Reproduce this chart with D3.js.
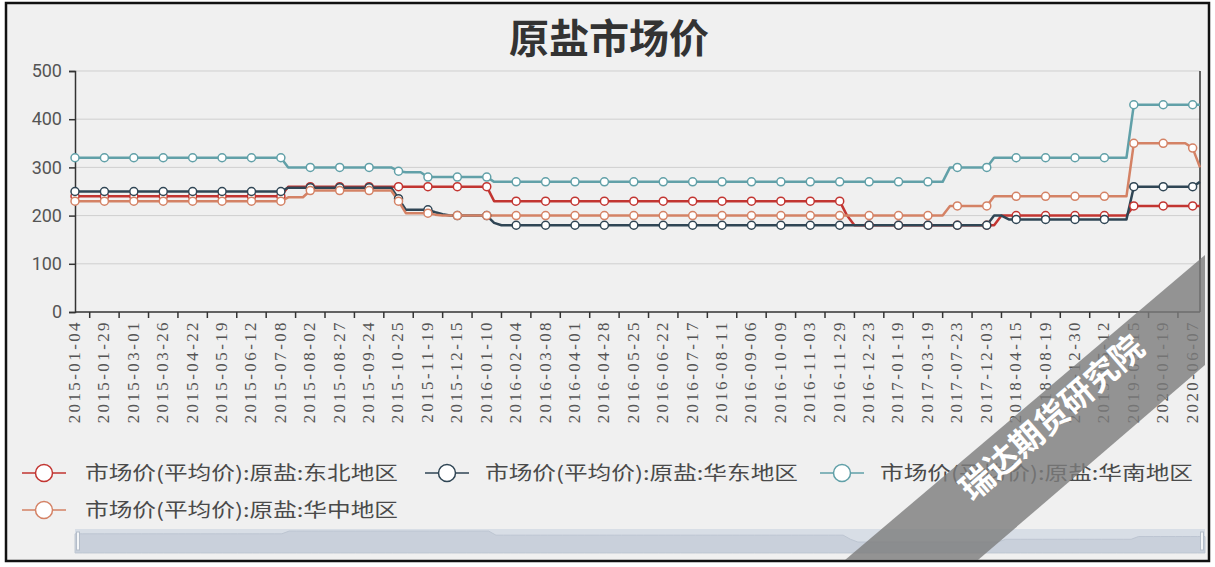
<!DOCTYPE html>
<html>
<head>
<meta charset="utf-8">
<script src="https://cdn.jsdelivr.net/npm/d3@7/dist/d3.min.js"></script>
<style>
  body { margin: 0; background: #fff; }
  text { font-family: "Noto Sans CJK SC", "Noto Sans", sans-serif; }
</style>
</head>
<body>
<div id="chart"></div>
<script>
////
// DATA
////
// labelled categories (every 4th category carries a label)
const tickLabels = [
  "2015-01-04", "2015-01-29", "2015-03-01", "2015-03-26", "2015-04-22", "2015-05-19", "2015-06-12", "2015-07-08",
  "2015-08-02", "2015-08-27", "2015-09-24", "2015-10-25", "2015-11-19", "2015-12-15", "2016-01-10", "2016-02-04",
  "2016-03-08", "2016-04-01", "2016-04-28", "2016-05-25", "2016-06-22", "2016-07-17", "2016-08-11", "2016-09-06",
  "2016-10-09", "2016-11-03", "2016-11-29", "2016-12-23", "2017-01-19", "2017-03-19", "2017-07-23", "2017-12-03",
  "2018-04-15", "2018-08-19", "2018-12-30", "2019-05-12", "2019-09-15", "2020-01-19", "2020-06-07"
];

const seriesNames = [
  "市场价(平均价):原盐:东北地区",
  "市场价(平均价):原盐:华东地区",
  "市场价(平均价):原盐:华南地区",
  "市场价(平均价):原盐:华中地区"
];

// 154 categories, one value each
const dongbei = [
  240,240,240,240,240,240,240,240,240,240,240,240,240,240,240,240,
  240,240,240,240,240,240,240,240,240,240,240,240,240,260,260,260,
  260,260,260,260,260,260,260,260,260,260,260,260,260,260,260,260,
  260,260,260,260,260,260,260,260,260,230,230,230,230,230,230,230,
  230,230,230,230,230,230,230,230,230,230,230,230,230,230,230,230,
  230,230,230,230,230,230,230,230,230,230,230,230,230,230,230,230,
  230,230,230,230,230,230,230,230,230,200,180,180,180,180,180,180,
  180,180,180,180,180,180,180,180,180,180,180,180,180,180,200,200,
  200,200,200,200,200,200,200,200,200,200,200,200,200,200,200,200,
  220,220,220,220,220,220,220,220,220,220
];
const huadong = [
  250,250,250,250,250,250,250,250,250,250,250,250,250,250,250,250,
  250,250,250,250,250,250,250,250,250,250,250,250,250,258,258,258,
  258,258,258,258,258,258,258,258,258,258,258,258,235,212,212,212,
  212,207,203,200,200,200,200,200,200,185,180,180,180,180,180,180,
  180,180,180,180,180,180,180,180,180,180,180,180,180,180,180,180,
  180,180,180,180,180,180,180,180,180,180,180,180,180,180,180,180,
  180,180,180,180,180,180,180,180,180,180,180,180,180,180,180,180,
  180,180,180,180,180,180,180,180,180,180,180,180,180,200,200,192,
  192,192,192,192,192,192,192,192,192,192,192,192,192,192,192,192,
  260,260,260,260,260,260,260,260,260,270
];
const huanan = [
  320,320,320,320,320,320,320,320,320,320,320,320,320,320,320,320,
  320,320,320,320,320,320,320,320,320,320,320,320,320,300,300,300,
  300,300,300,300,300,300,300,300,300,300,300,300,292,290,290,290,
  280,280,280,280,280,280,280,280,280,270,270,270,270,270,270,270,
  270,270,270,270,270,270,270,270,270,270,270,270,270,270,270,270,
  270,270,270,270,270,270,270,270,270,270,270,270,270,270,270,270,
  270,270,270,270,270,270,270,270,270,270,270,270,270,270,270,270,
  270,270,270,270,270,270,270,300,300,300,300,300,300,320,320,320,
  320,320,320,320,320,320,320,320,320,320,320,320,320,320,320,320,
  430,430,430,430,430,430,430,430,430,430
];
const huazhong = [
  230,230,230,230,230,230,230,230,230,230,230,230,230,230,230,230,
  230,230,230,230,230,230,230,230,230,230,230,230,230,238,238,238,
  252,252,252,252,252,252,252,252,252,252,252,252,230,205,205,205,
  205,202,200,200,200,200,200,200,200,200,200,200,200,200,200,200,
  200,200,200,200,200,200,200,200,200,200,200,200,200,200,200,200,
  200,200,200,200,200,200,200,200,200,200,200,200,200,200,200,200,
  200,200,200,200,200,200,200,200,200,200,200,200,200,200,200,200,
  200,200,200,200,200,200,200,220,220,220,220,220,220,240,240,240,
  240,240,240,240,240,240,240,240,240,240,240,240,240,240,240,240,
  350,350,350,350,350,350,350,350,340,300
];

const yTicks = [0, 100, 200, 300, 400, 500];
const colors = ["#c23531", "#2f4554", "#61a0a8", "#d48265"];
const allSeries = [dongbei, huadong, huanan, huazhong];

////
// CONTAINER
////
const W = 1215, H = 567;
const plot = { left: 75, right: 1200, top: 71, bottom: 312 };

const svg = d3.select("#chart").append("svg")
    .attr("width", W).attr("height", H);

svg.append("rect")
    .attr("x", 6).attr("y", 3).attr("width", 1203).attr("height", 558)
    .attr("fill", "#f0f0f0").attr("stroke", "#111").attr("stroke-width", 2.5);

svg.append("text")
    .attr("x", 609).attr("y", 53)
    .attr("text-anchor", "middle")
    .style("font-size", "40px").style("font-weight", "bold")
    .attr("fill", "#333")
    .text("原盐市场价");

const nCat = dongbei.length;
const x = d3.scaleLinear().domain([0, nCat - 1]).range([plot.left, plot.right]);
const y = d3.scaleLinear().domain([0, 500]).range([plot.bottom, plot.top]);

// grid
svg.append("g").selectAll("line")
    .data(yTicks.slice(1))
    .enter().append("line")
    .attr("x1", plot.left).attr("x2", plot.right)
    .attr("y1", d => y(d)).attr("y2", d => y(d))
    .attr("stroke", "#cfcfcf").attr("stroke-width", 1);

// right border of grid
svg.append("line")
    .attr("x1", plot.right).attr("x2", plot.right)
    .attr("y1", plot.top).attr("y2", plot.bottom)
    .attr("stroke", "#333").attr("stroke-width", 1.5);

// y axis
const yAxis = svg.append("g")
    .attr("transform", `translate(${plot.left},0)`)
    .call(d3.axisLeft(y).tickValues(yTicks).tickSize(6).tickPadding(7));
yAxis.select(".domain").attr("stroke", "#333").attr("stroke-width", 1.5);
yAxis.selectAll(".tick line").attr("stroke", "#333").attr("stroke-width", 1.5);
yAxis.selectAll(".tick text")
    .style("font-size", "18px").style("font-family", "Roboto, 'Noto Sans', sans-serif")
    .attr("fill", "#555");

// x axis: ticks sit between labelled categories
const labelIdx = tickLabels.map((d, i) => i * 4);
const tickIdx = labelIdx.map(i => i + 2).filter(i => i < nCat);

svg.append("line")
    .attr("x1", plot.left).attr("x2", plot.right)
    .attr("y1", plot.bottom).attr("y2", plot.bottom)
    .attr("stroke", "#333").attr("stroke-width", 1.5);

svg.append("g").selectAll("line")
    .data(tickIdx)
    .enter().append("line")
    .attr("x1", d => x(d)).attr("x2", d => x(d))
    .attr("y1", plot.bottom).attr("y2", plot.bottom + 6)
    .attr("stroke", "#333").attr("stroke-width", 1.5);

svg.append("g").selectAll("text")
    .data(tickLabels)
    .enter().append("text")
    .attr("transform", (d, i) => `translate(${x(labelIdx[i]) - 1},${plot.bottom + 8}) rotate(-90)`)
    .attr("text-anchor", "end")
    .attr("dy", "0.35em")
    .style("font-family", "'Liberation Serif', 'DejaVu Serif', serif")
    .style("font-size", "17px")
    .style("letter-spacing", "2.4px")
    .attr("fill", "#555")
    .text(d => d);

// lines
const line = d3.line().x((d, i) => x(i)).y(d => y(d));

allSeries.forEach((s, si) => {
    svg.append("path")
        .datum(s)
        .attr("fill", "none")
        .attr("stroke", colors[si])
        .attr("stroke-width", 2.5)
        .attr("stroke-linejoin", "round")
        .attr("d", line);
});

allSeries.forEach((s, si) => {
    svg.append("g").selectAll("circle")
        .data(labelIdx)
        .enter().append("circle")
        .attr("cx", d => x(d))
        .attr("cy", d => y(s[d]))
        .attr("r", 4)
        .attr("fill", "#fff")
        .attr("stroke", colors[si])
        .attr("stroke-width", 1.5);
});

// legend
const legendPos = [
    { ix: 22, tx: 85, y: 473 },
    { ix: 425, tx: 485, y: 473 },
    { ix: 820, tx: 880, y: 473 },
    { ix: 22, tx: 85, y: 510 }
];
const legend = svg.append("g").selectAll("g")
    .data(seriesNames)
    .enter().append("g");

legend.append("line")
    .attr("x1", (d, i) => legendPos[i].ix).attr("x2", (d, i) => legendPos[i].ix + 44)
    .attr("y1", (d, i) => legendPos[i].y).attr("y2", (d, i) => legendPos[i].y)
    .attr("stroke", (d, i) => colors[i]).attr("stroke-width", 1.5);
legend.append("circle")
    .attr("cx", (d, i) => legendPos[i].ix + 22).attr("cy", (d, i) => legendPos[i].y)
    .attr("r", 8.5)
    .attr("fill", "#fff")
    .attr("stroke", (d, i) => colors[i]).attr("stroke-width", 1.5);
legend.append("text")
    .attr("x", (d, i) => legendPos[i].tx).attr("y", (d, i) => legendPos[i].y)
    .attr("dy", "0.35em")
    .attr("textLength", 313).attr("lengthAdjust", "spacingAndGlyphs")
    .style("font-size", "19px")
    .attr("fill", "#4a4a4a")
    .text(d => d);

// data zoom slider
const slider = { left: 75, right: 1205, top: 529, bottom: 553 };
const sx = d3.scaleLinear().domain([0, nCat - 1]).range([slider.left, slider.right]);
const sy = d3.scaleLinear().domain([100, 275]).range([slider.bottom, slider.top]);

svg.append("rect")
    .attr("x", slider.left).attr("y", slider.top)
    .attr("width", slider.right - slider.left).attr("height", slider.bottom - slider.top)
    .attr("fill", "#e6e9ee");
svg.append("path")
    .datum(dongbei)
    .attr("fill", "#d2d8df")
    .attr("stroke", "#c3cad3")
    .attr("d", d3.area().x((d, i) => sx(i)).y0(slider.bottom).y1(d => sy(d)));
svg.append("rect")
    .attr("x", slider.left).attr("y", slider.top)
    .attr("width", slider.right - slider.left).attr("height", slider.bottom - slider.top)
    .attr("fill", "rgba(167,183,204,0.22)");
[slider.left + 3, slider.right - 3].forEach(hx => {
    svg.append("rect")
        .attr("x", hx - 1.5).attr("y", slider.top + 3)
        .attr("width", 3).attr("height", slider.bottom - slider.top - 6)
        .attr("fill", "#f4f6f8").attr("stroke", "#b4bdc9");
});

// watermark band
svg.append("path")
    .attr("d", "M845,560 L1205,255 L1205,365 L978,560 Z")
    .attr("fill", "#7c7c7c").attr("opacity", 0.8);
svg.append("text")
    .attr("transform", "translate(1052,418) rotate(-41)")
    .attr("text-anchor", "middle")
    .attr("dy", "0.35em")
    .style("font-size", "33px").style("font-weight", "bold")
    .attr("fill", "#fff")
    .text("瑞达期货研究院");
</script>
</body>
</html>
